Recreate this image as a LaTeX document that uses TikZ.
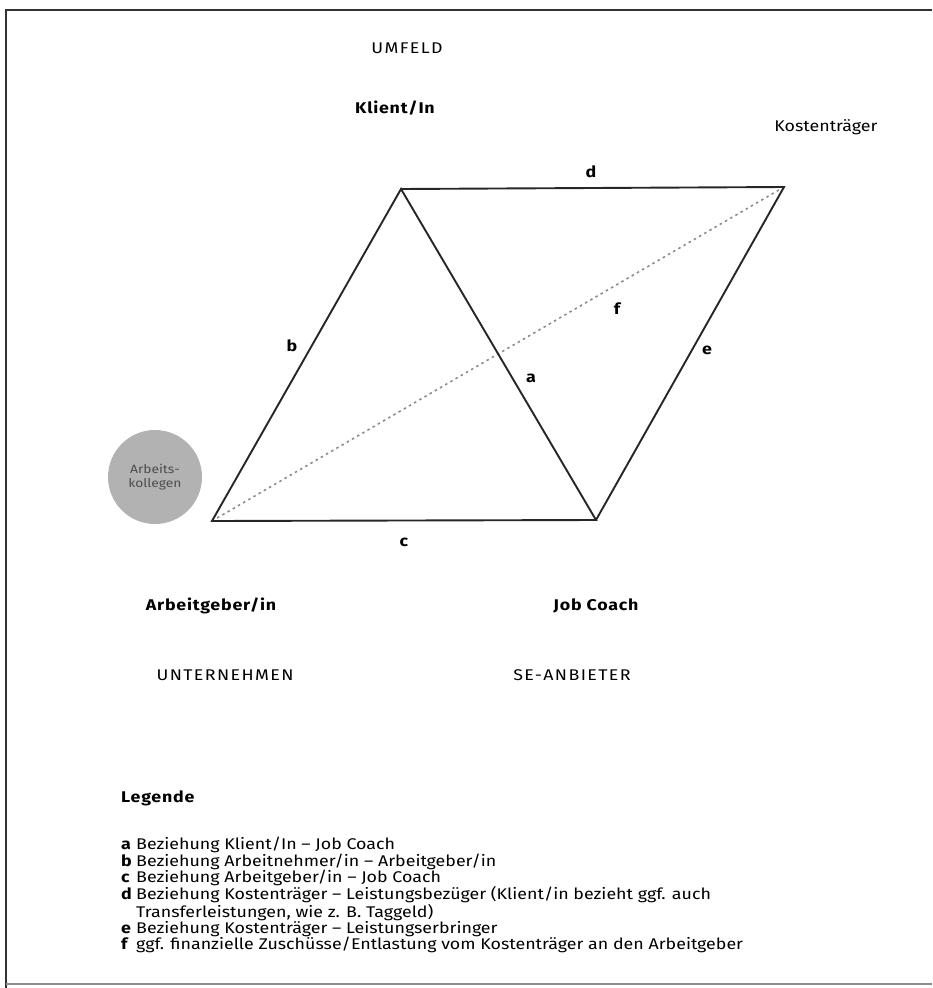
\documentclass[tikz,border=0pt]{standalone}
\usepackage{fontspec}
\setmainfont{Fira Sans}[FakeStretch=1.15]
\newfontfamily\capsfont{Fira Sans}[FakeStretch=1.15, LetterSpace=9]
\newfontfamily\boldsp{Fira Sans}[FakeStretch=1.15, LetterSpace=5]
\newcommand{\legitem}[1]{\makebox[15pt][l]{\bfseries #1}}
\begin{document}
\begin{tikzpicture}[x=1pt,y=-1pt,
  lbl/.style={font=\fontsize{15.5}{16}\selectfont, inner sep=0pt},
  caplbl/.style={font=\fontsize{15.5}{16}\capsfont, inner sep=0pt},
  blbl/.style={font=\fontsize{15.5}{16}\boldsp\bfseries, inner sep=0pt},
  edge/.style={line width=1.9pt, black!85},
  legtxt/.style={font=\fontsize{15.5}{16.3}\selectfont, inner sep=0pt, anchor=north west, align=left}]
\useasboundingbox (0,0) rectangle (932,988);
% frame
\draw[line width=2.2pt, black!80] (932,10) -- (6,10) -- (6,988);
\draw[line width=1.6pt, black!45] (6,984) -- (932,984);
% corner coordinates
\coordinate (K) at (401,189);
\coordinate (KT) at (784,187);
\coordinate (JC) at (596,520);
\coordinate (AG) at (212,521);
% dotted line f
\draw[line width=1.6pt, black!45, dash pattern=on 2.5pt off 3.5pt] (AG) -- (KT);
% edges
\draw[edge] (AG) -- (K) -- (JC) -- cycle;
\draw[edge] (K) -- (KT) -- (JC);
% circle
\node[circle, fill=black!30, minimum size=94pt, inner sep=0pt, align=center,
  font=\fontsize{12}{13.5}\selectfont, text=black!70] (AK) at (155,477) {Arbeits-\\kollegen};
% labels
\node[caplbl] (umfeld) at (407,48) {UMFELD};
\node[blbl] (klient) at (395,108) {Klient/In};
\node[lbl] (kt) at (826,127) {Kostenträger};
\node[blbl] (ld) at (591,172) {d};
\node[blbl] (lb) at (292,346) {b};
\node[blbl] (lf) at (617,309) {f};
\node[blbl] (la) at (531,378) {a};
\node[blbl] (le) at (707,350) {e};
\node[blbl] (lc) at (404,542) {c};
\node[blbl] (ag) at (211,606) {Arbeitgeber/in};
\node[blbl] (jc) at (596,606) {Job Coach};
\node[caplbl] (un) at (225,675) {UNTERNEHMEN};
\node[caplbl] (se) at (572,675) {SE-ANBIETER};
% legend
\node[blbl, anchor=west] (leg) at (121,798) {Legende};
\node[legtxt] (legtext) at (121,837)
  {\legitem{a}Beziehung Klient/In – Job Coach\\
   \legitem{b}Beziehung Arbeitnehmer/in – Arbeitgeber/in\\
   \legitem{c}Beziehung Arbeitgeber/in – Job Coach\\
   \legitem{d}Beziehung Kostenträger – Leistungsbezüger (Klient/in bezieht ggf. auch\\
   \legitem{}Transferleistungen, wie z. B. Taggeld)\\
   \legitem{e}Beziehung Kostenträger – Leistungserbringer\\
   \legitem{f}ggf. finanzielle Zuschüsse/Entlastung vom Kostenträger an den Arbeitgeber};
\end{tikzpicture}
\end{document}
